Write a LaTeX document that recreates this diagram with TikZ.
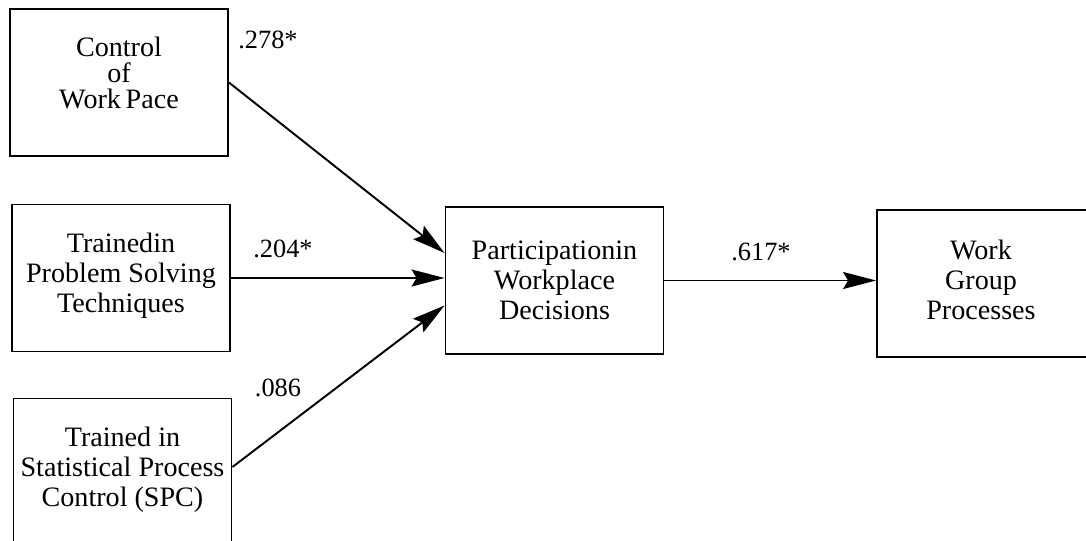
\documentclass[tikz,border=0pt]{standalone}
\usepackage{fontspec}
\setmainfont{Liberation Serif}
\usetikzlibrary{arrows.meta}

\begin{document}
\begin{tikzpicture}[x=0.02cm, y=-0.02cm, >={Stealth[length=0.66cm, width=0.34cm, inset=0.1cm]}, line width=1.1pt,
    box/.style={draw, minimum width=4.36cm, minimum height=2.94cm, inner sep=0pt},
    txt/.style={align=center, font=\fontsize{16}{17}\selectfont, inner sep=0pt},
    wt/.style={font=\fontsize{15}{15}\selectfont, inner sep=0pt}]
    \useasboundingbox (0,0) rectangle (1086,541);
    % boxes
    \node[box] (pace) at (119,82.5) {};
    \node[box] (solve) at (121,278) {};
    \node[box] (spc) at (122.5,472) {};
    \node[box] (part) at (554.5,280.5) {};
    \node[box] (group) at (986,283.5) {};
    % box texts
    \node[txt, font=\fontsize{16}{15}\selectfont] (pace text) at (pace.center) [yshift=0.19cm] {Control\\of\\Work\,Pace};
    \node[txt] (solve text) at (solve.center) [yshift=0.05cm] {Trainedin\\Problem Solving\\Techniques};
    \node[txt] (spc text) at (spc.center) [yshift=0.04cm] {Trained in\\Statistical Process\\Control (SPC)};
    \node[txt] (part text) at (part.center) {Participationin\\Workplace\\Decisions};
    \node[txt] (group text) at (group.center) [xshift=-0.1cm, yshift=0.07cm] {Work\\Group\\Processes};
    % paths
    \draw[->] (pace.east) -- ([yshift=0.55cm]part.west);
    \draw[->] (solve.east) -- (solve.east -| part.west);
    \draw[->] ([yshift=0.1cm]spc.east) -- ([yshift=-0.5cm]part.west);
    \draw[->] (part.east) -- (part.east -| group.west);
    % path weights
    \node[wt] (w pace) at (268,40) {.278*};
    \node[wt] (w solve) at (283,249) {.204*};
    \node[wt] (w spc) at (278,388) {.086};
    \node[wt] (w part) at (761,252) {.617*};
\end{tikzpicture}
\end{document}
